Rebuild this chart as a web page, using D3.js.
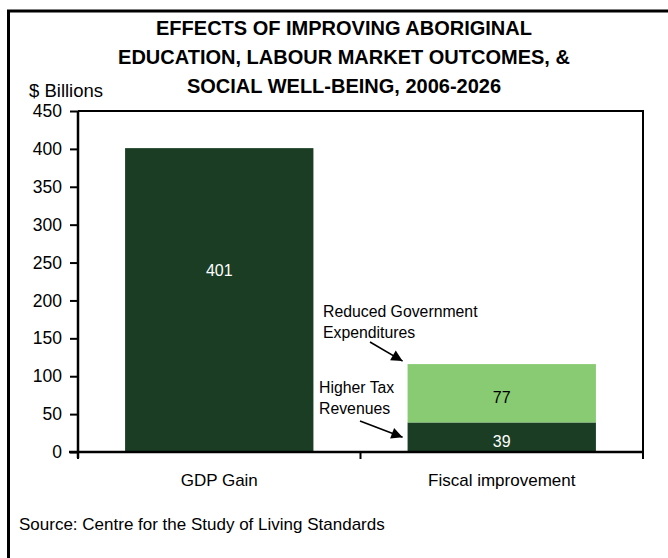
<!DOCTYPE html>
<html>
<head>
<meta charset="utf-8">
<script src="https://cdn.jsdelivr.net/npm/d3@7"></script>
<style>
  html, body { margin: 0; padding: 0; background: #fff; }
  svg { display: block; font-family: "Liberation Sans", Arial, sans-serif; }
</style>
</head>
<body>
<svg id="chart" width="668" height="558"></svg>
<script>
// Chart data
const categories = ["GDP Gain", "Fiscal improvement"];
const seriesNames = ["Higher Tax Revenues", "Reduced Government Expenditures"];
const baseValues = [401, 39];   // GDP gain / higher tax revenues
const topValues = [0, 77];      // reduced government expenditures
const yTicks = [0, 50, 100, 150, 200, 250, 300, 350, 400, 450];
const titleLines = [
  "EFFECTS OF IMPROVING ABORIGINAL",
  "EDUCATION, LABOUR MARKET OUTCOMES, &",
  "SOCIAL WELL-BEING, 2006-2026"
];

const W = 668, H = 558;
const plot = { left: 78, right: 643, top: 111, bottom: 452 };
const darkGreen = "#1a3d24";
const lightGreen = "#88cb72";

const svg = d3.select("#chart");
svg.append("rect").attr("width", W).attr("height", H).attr("fill", "#fff");

// outer frame (continues past the right and bottom edges)
svg.append("rect")
  .attr("x", 8.5).attr("y", 11)
  .attr("width", 800).attr("height", 700)
  .attr("fill", "none").attr("stroke", "#000").attr("stroke-width", 3);

const x = d3.scaleBand()
  .domain(categories)
  .range([plot.left, plot.right])
  .paddingInner(1 / 3)
  .paddingOuter(1 / 6);

const y = d3.scaleLinear().domain([0, 450]).range([plot.bottom, plot.top]);

// stacked segments
const rows = categories.map((c, i) => ({
  category: c,
  [seriesNames[0]]: baseValues[i],
  [seriesNames[1]]: topValues[i]
}));
const stacked = d3.stack().keys(seriesNames)(rows);
const fills = [darkGreen, lightGreen];
const labelColors = ["#fff", "#000"];

stacked.forEach((layer, li) => {
  const g = svg.append("g");
  layer.forEach((seg, ci) => {
    const v = seg[1] - seg[0];
    if (v <= 0) return;
    const cx = x(seg.data.category);
    g.append("rect")
      .attr("x", cx)
      .attr("y", y(seg[1]))
      .attr("width", x.bandwidth())
      .attr("height", y(seg[0]) - y(seg[1]))
      .attr("fill", fills[li]);
    // the tall GDP bar carries its label in the upper part of the bar
    const labelY = (ci === 0 && li === 0)
      ? y(seg[0] + v * 0.6) + 6
      : (y(seg[0]) + y(seg[1])) / 2 + 10;
    g.append("text")
      .attr("x", cx + x.bandwidth() / 2)
      .attr("y", labelY)
      .attr("text-anchor", "middle")
      .attr("font-size", 16)
      .attr("fill", labelColors[li])
      .text(v);
  });
});

// plot area border (top and right)
svg.append("path")
  .attr("d", `M${plot.left},${plot.top}H${plot.right}V${plot.bottom}`)
  .attr("fill", "none").attr("stroke", "#000").attr("stroke-width", 2);

// y axis
const yAxis = svg.append("g")
  .attr("transform", `translate(${plot.left},0)`)
  .call(d3.axisLeft(y).tickValues(yTicks).tickSize(8).tickPadding(8).tickFormat(d3.format("d")));
yAxis.select(".domain").attr("stroke", "#000").attr("stroke-width", 2.5)
  .attr("d", `M0,${plot.top}V${plot.bottom + 6}`);
yAxis.selectAll(".tick line").attr("stroke", "#000").attr("stroke-width", 2);
yAxis.selectAll(".tick text").attr("font-size", 17.5).attr("fill", "#000")
  .attr("font-family", "Liberation Sans, Arial, sans-serif");

// x axis with ticks at category boundaries
const boundaries = [plot.left, plot.left + (plot.right - plot.left) / 2, plot.right];
const xAxis = svg.append("g");
xAxis.append("line")
  .attr("x1", plot.left - 9).attr("x2", plot.right + 1)
  .attr("y1", plot.bottom).attr("y2", plot.bottom)
  .attr("stroke", "#000").attr("stroke-width", 2.5);
xAxis.selectAll("line.bt").data(boundaries).join("line")
  .attr("class", "bt")
  .attr("x1", d => d).attr("x2", d => d)
  .attr("y1", plot.bottom).attr("y2", plot.bottom + 7)
  .attr("stroke", "#000").attr("stroke-width", 2);
xAxis.selectAll("text").data(categories).join("text")
  .attr("x", d => x(d) + x.bandwidth() / 2)
  .attr("y", 486)
  .attr("text-anchor", "middle")
  .attr("font-size", 17)
  .text(d => d);

// title
svg.append("g").selectAll("text").data(titleLines).join("text")
  .attr("x", 344)
  .attr("y", (d, i) => 35 + i * 29)
  .attr("text-anchor", "middle")
  .attr("font-size", 20)
  .attr("font-weight", "bold")
  .text(d => d);

// axis unit label
svg.append("text").attr("x", 29).attr("y", 97).attr("font-size", 18.5).text("$ Billions");

// source note
svg.append("text").attr("x", 19).attr("y", 530).attr("font-size", 17)
  .text("Source: Centre for the Study of Living Standards");

// segment annotations with arrows
svg.append("defs").append("marker")
  .attr("id", "arrowhead")
  .attr("viewBox", "0 0 10 10")
  .attr("refX", 10).attr("refY", 5)
  .attr("markerWidth", 8).attr("markerHeight", 7)
  .attr("markerUnits", "strokeWidth")
  .attr("orient", "auto")
  .append("path").attr("d", "M0,0L10,5L0,10Z").attr("fill", "#000");

const fiscalX = x(categories[1]);
const total = baseValues[1] + topValues[1];
const annotations = [
  { lines: ["Reduced Government", "Expenditures"], tx: 323, ty: 317, target: y(total) - 3, from: [370, 342] },
  { lines: ["Higher Tax", "Revenues"], tx: 319, ty: 393, target: y(baseValues[1] / 2), from: [360, 421] }
];
annotations.forEach(a => {
  const t = svg.append("text").attr("font-size", 15.8);
  a.lines.forEach((l, i) => t.append("tspan").attr("x", a.tx).attr("y", a.ty + i * 20.5).text(l));
  svg.append("line")
    .attr("x1", a.from[0]).attr("y1", a.from[1])
    .attr("x2", fiscalX - 5).attr("y2", a.target)
    .attr("stroke", "#000").attr("stroke-width", 1.6)
    .attr("marker-end", "url(#arrowhead)");
});
</script>
</body>
</html>
